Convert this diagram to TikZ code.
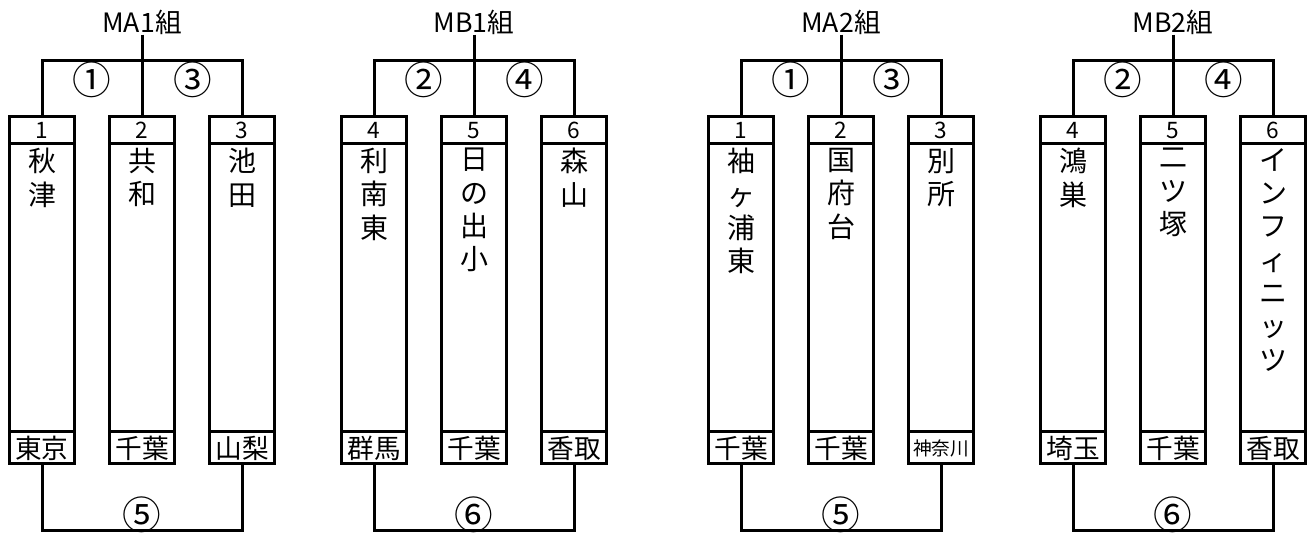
\documentclass[tikz,border=0pt]{standalone}
\usepackage{fontspec}
\setmainfont{Noto Sans CJK JP}
\usetikzlibrary{positioning}

\tikzset{
	cell/.style={draw, line width=2.25pt, minimum width=48.75pt, inner sep=0pt, outer sep=0pt},
	numcell/.style={cell, minimum height=20.25pt, font=\fontsize{17}{17}\selectfont},
	namecell/.style={cell, minimum height=216pt},
	prefcell/.style={cell, minimum height=24pt, font=\fontsize{20}{20}\selectfont},
	nametext/.style={align=center, inner sep=0pt, font=\fontsize{21}{25}\selectfont},
	grouptitle/.style={inner sep=0pt, font=\fontsize{20}{20}\selectfont},
	matchno/.style={inner sep=0pt, font=\fontsize{29}{29}\selectfont},
	bracket/.style={line width=2.25pt}
}

\begin{document}
\begin{tikzpicture}[x=0.75pt, y=-0.75pt]

	\useasboundingbox (0,0) rectangle (1314,534);

	% teams
	\foreach \id/\x/\n/\nm/\pf in {
		a1/42/1/{秋\\津}/東京, a2/142/2/{共\\和}/千葉, a3/242/3/{池\\田}/山梨,
		b1/374/4/{利\\南\\東}/群馬, b2/474/5/{日\\の\\出\\小}/千葉, b3/574/6/{森\\山}/香取,
		c1/741/1/{袖\\ヶ\\浦\\東}/千葉, c2/841/2/{国\\府\\台}/千葉, c3/941/3/{別\\所}/{\fontsize{14}{14}\selectfont 神奈川},
		d1/1073/4/{鴻\\巣}/埼玉, d2/1173/5/{二\\ツ\\塚}/千葉, d3/1273/6/{イ\\ン\\フ\\ィ\\ニ\\ッ\\ツ}/香取}
	{
		\node [numcell] (\id-h) at (\x,130.5) {\n};
		\node [namecell, below=0pt of \id-h] (\id-n) {};
		\node [nametext, below=3pt of \id-n.north] {\nm};
		\node [prefcell, below=0pt of \id-n] (\id-p) {\pf};
	}

	% groups
	\foreach \g/\c/\t/\l/\r/\b in {
		a/142/MA1組/①/③/⑤, b/474/MB1組/②/④/⑥,
		c/841/MA2組/①/③/⑤, d/1173/MB2組/②/④/⑥}
	{
		\node [grouptitle] (\g) at (\c,22) {\t};
		\coordinate (\g-j) at (\c,61);
		\coordinate (\g-k) at (\c,530);

		\draw [bracket] (\g) -- (\g-j);
		\draw [bracket] (\g1-h) |- (\g-j) -| (\g3-h);
		\draw [bracket] (\g-j) -- (\g2-h);
		\draw [bracket] (\g1-p) |- (\g-k) -| (\g3-p);

		\node [matchno] at ({\c-50},80) {\l};
		\node [matchno] at ({\c+51},80) {\r};
		\node [matchno] at (\c,515) {\b};
	}

\end{tikzpicture}
\end{document}
